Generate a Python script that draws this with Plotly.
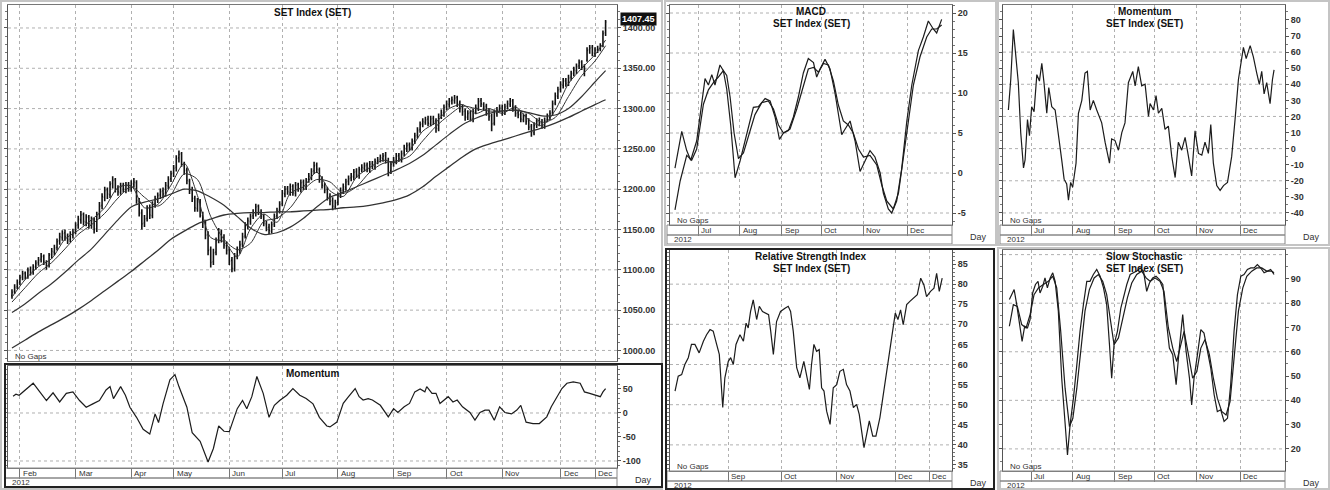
import plotly.graph_objects as go

W, H = 1330, 490

# ------------------------------------------------------------------ data
main_month_day = [3, 24, 45, 61, 82, 102, 123, 144, 164, 185, 207, 220]
main_month_lbl = ["Feb", "Mar", "Apr", "May", "Jun", "Jul", "Aug", "Sep", "Oct", "Nov", "Dec", "Dec"]
half_month_day = [102, 123, 144, 164, 185, 207]
half_month_lbl = ["Jul", "Aug", "Sep", "Oct", "Nov", "Dec"]
rsi_month_day = [144, 164, 185, 207, 220]
rsi_month_lbl = ["Sep", "Oct", "Nov", "Dec", "Dec"]
year_lbl = "2012"

bar_day = list(range(225))
open_px = [
    1068, 1073, 1079, 1085, 1091, 1096, 1092, 1100, 1098, 1104,
    1109, 1113, 1117, 1109, 1106, 1119, 1122, 1128, 1136, 1140,
    1146, 1142, 1138, 1143, 1148, 1156, 1162, 1169, 1159, 1166,
    1156, 1162, 1151, 1169, 1180, 1190, 1199, 1193, 1207, 1212,
    1201, 1196, 1205, 1199, 1206, 1201, 1206, 1208, 1185, 1171,
    1158, 1164, 1177, 1167, 1182, 1187, 1193, 1198, 1195, 1204,
    1213, 1220, 1227, 1239, 1244, 1230, 1224, 1210, 1199, 1188,
    1176, 1185, 1167, 1159, 1144, 1125, 1110, 1122, 1137, 1147,
    1140, 1130, 1125, 1112, 1101, 1118, 1124, 1132, 1142, 1154,
    1160, 1167, 1170, 1179, 1171, 1166, 1157, 1153, 1148, 1157,
    1167, 1174, 1182, 1194, 1201, 1196, 1204, 1195, 1206, 1200,
    1209, 1203, 1212, 1215, 1223, 1230, 1224, 1213, 1204, 1200,
    1191, 1186, 1178, 1184, 1193, 1199, 1202, 1210, 1214, 1215,
    1222, 1217, 1225, 1226, 1230, 1224, 1232, 1228, 1235, 1237,
    1238, 1242, 1235, 1223, 1232, 1235, 1242, 1237, 1245, 1250,
    1255, 1251, 1260, 1267, 1274, 1281, 1283, 1287, 1281, 1288,
    1285, 1275, 1291, 1294, 1302, 1305, 1310, 1310, 1314, 1307,
    1301, 1297, 1289, 1295, 1287, 1297, 1300, 1310, 1305, 1303,
    1296, 1291, 1282, 1294, 1299, 1302, 1295, 1303, 1305, 1310,
    1301, 1295, 1293, 1286, 1291, 1285, 1278, 1270, 1280, 1285,
    1283, 1278, 1286, 1289, 1295, 1307, 1315, 1324, 1329, 1335,
    1332, 1339, 1344, 1347, 1353, 1358, 1351, 1360, 1373, 1376,
    1368, 1373, 1375, 1379, 1394]
high_px = [
    1076, 1082, 1088, 1094, 1099, 1098, 1103, 1104, 1107, 1112,
    1116, 1121, 1119, 1112, 1121, 1127, 1131, 1139, 1146, 1149,
    1150, 1145, 1148, 1151, 1159, 1167, 1173, 1171, 1169, 1168,
    1166, 1165, 1172, 1184, 1195, 1203, 1202, 1210, 1216, 1214,
    1205, 1208, 1208, 1209, 1209, 1211, 1214, 1211, 1189, 1175,
    1168, 1180, 1181, 1185, 1192, 1196, 1201, 1202, 1209, 1216,
    1223, 1230, 1242, 1248, 1246, 1234, 1227, 1213, 1203, 1192,
    1189, 1188, 1172, 1162, 1148, 1129, 1126, 1140, 1152, 1150,
    1144, 1135, 1128, 1116, 1121, 1129, 1136, 1146, 1159, 1165,
    1170, 1175, 1182, 1181, 1175, 1169, 1161, 1157, 1160, 1170,
    1177, 1185, 1199, 1204, 1204, 1207, 1206, 1209, 1208, 1212,
    1212, 1214, 1220, 1226, 1234, 1233, 1227, 1216, 1208, 1203,
    1195, 1190, 1187, 1196, 1202, 1207, 1213, 1217, 1220, 1225,
    1226, 1228, 1231, 1233, 1233, 1235, 1235, 1238, 1240, 1243,
    1245, 1246, 1239, 1235, 1240, 1245, 1245, 1248, 1255, 1258,
    1258, 1263, 1270, 1277, 1284, 1288, 1290, 1291, 1291, 1291,
    1288, 1294, 1299, 1305, 1310, 1313, 1315, 1317, 1316, 1310,
    1305, 1300, 1298, 1298, 1300, 1305, 1313, 1313, 1308, 1306,
    1300, 1294, 1299, 1302, 1305, 1305, 1306, 1310, 1313, 1312,
    1304, 1299, 1296, 1294, 1294, 1288, 1281, 1283, 1288, 1289,
    1287, 1289, 1294, 1298, 1310, 1320, 1327, 1334, 1338, 1338,
    1342, 1347, 1352, 1356, 1361, 1360, 1355, 1376, 1379, 1379,
    1376, 1378, 1381, 1397, 1410]
low_px = [
    1064, 1070, 1076, 1081, 1087, 1088, 1089, 1093, 1094, 1100,
    1105, 1109, 1106, 1100, 1103, 1114, 1118, 1124, 1131, 1136,
    1136, 1132, 1134, 1139, 1144, 1151, 1157, 1155, 1154, 1151,
    1151, 1145, 1147, 1163, 1175, 1185, 1188, 1189, 1201, 1196,
    1192, 1193, 1196, 1195, 1197, 1197, 1202, 1182, 1166, 1150,
    1153, 1160, 1163, 1164, 1177, 1183, 1188, 1189, 1191, 1200,
    1209, 1215, 1222, 1233, 1228, 1218, 1206, 1194, 1184, 1172,
    1172, 1165, 1152, 1138, 1118, 1103, 1106, 1118, 1133, 1134,
    1126, 1119, 1106, 1097, 1098, 1113, 1120, 1128, 1139, 1150,
    1156, 1163, 1166, 1168, 1163, 1154, 1148, 1144, 1145, 1153,
    1163, 1170, 1179, 1190, 1193, 1192, 1192, 1191, 1197, 1196,
    1199, 1199, 1208, 1211, 1219, 1220, 1208, 1201, 1195, 1186,
    1180, 1174, 1175, 1180, 1189, 1194, 1198, 1205, 1210, 1211,
    1214, 1213, 1221, 1222, 1221, 1220, 1225, 1224, 1231, 1233,
    1234, 1232, 1216, 1219, 1228, 1231, 1234, 1233, 1241, 1246,
    1247, 1248, 1256, 1263, 1270, 1277, 1280, 1278, 1278, 1280,
    1270, 1272, 1287, 1290, 1298, 1301, 1305, 1306, 1302, 1295,
    1291, 1285, 1286, 1284, 1283, 1293, 1297, 1302, 1298, 1291,
    1285, 1272, 1279, 1290, 1295, 1291, 1292, 1299, 1302, 1296,
    1290, 1288, 1283, 1283, 1280, 1273, 1265, 1267, 1276, 1278,
    1275, 1275, 1283, 1286, 1292, 1304, 1312, 1320, 1325, 1327,
    1328, 1335, 1340, 1343, 1349, 1348, 1340, 1358, 1368, 1365,
    1364, 1369, 1371, 1376, 1390]
close_px = [
    1072, 1078, 1084, 1090, 1095, 1091, 1099, 1097, 1103, 1108,
    1112, 1116, 1110, 1105, 1118, 1123, 1127, 1135, 1141, 1145,
    1141, 1137, 1144, 1147, 1155, 1163, 1168, 1160, 1165, 1157,
    1161, 1150, 1168, 1179, 1191, 1198, 1194, 1206, 1211, 1200,
    1197, 1204, 1200, 1205, 1202, 1207, 1209, 1186, 1170, 1157,
    1163, 1176, 1168, 1181, 1188, 1192, 1197, 1194, 1205, 1212,
    1219, 1226, 1238, 1243, 1231, 1223, 1211, 1198, 1189, 1177,
    1184, 1168, 1158, 1143, 1124, 1109, 1121, 1136, 1146, 1139,
    1131, 1124, 1111, 1102, 1117, 1125, 1131, 1141, 1155, 1161,
    1166, 1171, 1178, 1172, 1167, 1158, 1152, 1149, 1156, 1166,
    1173, 1181, 1195, 1200, 1197, 1203, 1196, 1205, 1201, 1208,
    1204, 1211, 1216, 1222, 1229, 1225, 1212, 1205, 1199, 1190,
    1185, 1179, 1183, 1192, 1198, 1203, 1209, 1213, 1216, 1221,
    1218, 1224, 1227, 1229, 1225, 1231, 1229, 1234, 1236, 1239,
    1241, 1236, 1222, 1231, 1236, 1241, 1238, 1244, 1251, 1254,
    1252, 1259, 1266, 1273, 1280, 1284, 1286, 1282, 1287, 1284,
    1276, 1290, 1295, 1301, 1306, 1309, 1311, 1313, 1306, 1300,
    1296, 1290, 1294, 1288, 1296, 1301, 1309, 1306, 1302, 1295,
    1290, 1281, 1295, 1298, 1301, 1296, 1302, 1306, 1309, 1300,
    1294, 1292, 1287, 1290, 1284, 1277, 1271, 1279, 1284, 1282,
    1279, 1285, 1290, 1294, 1306, 1316, 1323, 1330, 1334, 1331,
    1338, 1343, 1348, 1352, 1357, 1352, 1349, 1372, 1375, 1369,
    1372, 1374, 1377, 1393, 1407.45]

ma_day = [0, 5, 10, 15, 20, 25, 30, 35, 40, 45, 50, 55, 60, 65, 70, 75, 80, 85, 90, 95,
          100, 105, 110, 115, 120, 125, 130, 135, 140, 145, 150, 155, 160, 165, 170, 175,
          180, 185, 190, 195, 200, 205, 210, 215, 220, 224]
ma_5 = [1066, 1088, 1104, 1114, 1138, 1149, 1162, 1177, 1202, 1204, 1177, 1181, 1205, 1232, 1192,
        1140, 1135, 1116, 1151, 1169, 1159, 1195, 1203, 1221, 1198, 1191, 1215, 1227, 1236, 1233,
        1248, 1272, 1283, 1300, 1305, 1294, 1300, 1294, 1302, 1286, 1279, 1298, 1331, 1350, 1367, 1385]
ma_10 = [1060, 1078, 1096, 1109, 1126, 1144, 1156, 1170, 1189, 1203, 1190, 1179, 1193, 1219, 1212,
         1166, 1138, 1125, 1133, 1160, 1164, 1177, 1199, 1212, 1209, 1195, 1203, 1221, 1232, 1235,
         1241, 1260, 1278, 1292, 1303, 1300, 1297, 1297, 1298, 1294, 1283, 1289, 1315, 1341, 1359, 1378]
ma_25 = [1047, 1058, 1071, 1083, 1097, 1112, 1126, 1144, 1162, 1178, 1184, 1188, 1194, 1200, 1198,
         1190, 1180, 1166, 1152, 1144, 1146, 1153, 1164, 1178, 1190, 1196, 1203, 1210, 1217, 1224,
         1232, 1242, 1255, 1268, 1280, 1288, 1294, 1297, 1298, 1295, 1291, 1292, 1300, 1315, 1333, 1347]
ma_75 = [1003, 1013, 1023, 1032, 1041, 1051, 1062, 1074, 1086, 1098, 1111, 1124, 1138, 1148, 1157,
         1163, 1168, 1170, 1171, 1171, 1172, 1172, 1173, 1174, 1175, 1177, 1178, 1180, 1183, 1187,
         1193, 1203, 1216, 1228, 1240, 1250, 1256, 1261, 1266, 1271, 1276, 1282, 1289, 1297, 1305, 1311]

mom_day = [0.4, 1.5, 2.7, 8, 10.5, 13, 15.5, 18, 20.5, 23, 25.5, 28, 30.5, 33, 35.5, 37, 38.3, 41,
           42.8, 44.5, 47, 49.5, 52, 54, 55.3, 57, 59.6, 61.5, 63, 66, 68, 71, 74, 76, 78, 80, 82,
           85, 87, 88.6, 90.5, 92.4, 94.8, 97, 99, 101, 103.7, 106, 108.6, 111, 113.6, 116, 118.8,
           120, 122.6, 125, 127, 129.5, 131, 132.5, 134.4, 136, 139, 140.7, 142, 144, 145.6, 148,
           150, 152, 154, 155.8, 156.5, 158.5, 160, 161.5, 163, 164.6, 166.4, 168, 170, 172.8,
           174.7, 176.6, 178.5, 180, 182, 184, 186, 188.5, 190.5, 192, 194, 196.6, 199, 201.8,
           203.5, 205.6, 207.5, 209.4, 211.8, 214.4, 216, 218, 220, 222, 223, 224]
mom_val = [35, 39, 37, 62, 44, 26, 42, 23, 41, 44, 26, 12, 19, 26, 48, 55, 30, 55,
           37, 12, -9, -34, -44, -2, -20, 19, 69, 80, 55, 12, -41, -59, -102, -74, -27, -38, -39,
           9, 26, 9, 34, 76, 41, -9, 16, 26, 37, 51, 37, 30, 19, -9, -27,
           -29, -19, 20, 34, 51, 34, 27, 30, 27, 16, 1, -8, 9, 1, 13,
           20, 44, 50, 44, 55, 41, 41, 20, 27, 34, 23, 27, 13, 1,
           -15, 1, 6, 6, -15, 13, 1, -2, 6, 16, -19, -22, -22, -8,
           13, 34, 51, 62, 65, 62, 44, 41, 37, 34, 44, 51]

macd_day = [90.4, 93.8, 96.3, 98.3, 101.3, 103.8, 105.5, 107.2, 108.9, 110.5, 113, 114.7, 116.4,
            118.4, 120.6, 123.1, 126.5, 129.8, 132.3, 135.7, 138.2, 140.7, 142.9, 144.9, 147.4,
            149.9, 152.4, 154.9, 157.4, 160, 161.6, 163.3, 165.8, 168.3, 170.8, 174.2, 175.9,
            178.4, 180.9, 183.4, 185.9, 188.4, 190.9, 193.5, 195.1, 197.6, 199.3, 201.8, 204.3,
            206.9, 209.4, 212.7, 215.2, 217.7, 220.2, 221.9, 224.4]
macd_val = [0.6, 5.2, 2.8, 1.6, 4.0, 9.0, 11.8, 11.0, 12.3, 11.0, 13.5, 12.8, 10.5,
            6.0, -0.6, 1.5, 5.0, 8.2, 8.3, 9.3, 9.0, 7.0, 4.2, 5.0, 5.3,
            7.0, 9.5, 12.5, 14.3, 13.8, 12.0, 13.0, 14.2, 13.0, 10.0, 4.8, 5.5,
            6.5, 4.0, 0.2, 1.5, 2.8, 2.0, 0.0, -2.5, -4.5, -5.0, -3.5, 0.5,
            6.5, 11.0, 15.3, 17.0, 19.0, 18.0, 17.5, 19.2]
signal_day = [90.4, 93, 96.3, 98.8, 101.3, 103, 104.7, 107.2, 109.7, 112.2, 114.7, 116.4, 118.1,
              120.1, 122.3, 124.8, 127.3, 130.6, 134, 137.3, 139.9, 142.4, 144.9, 148.2, 151.6,
              154.9, 157.4, 160, 162.5, 165, 167.5, 170, 172.5, 175, 177.5, 180, 182.6, 185.1,
              188.4, 191.8, 194.3, 196.8, 200.1, 202.7, 205.2, 207.7, 210.2, 213.5, 216.9, 219.4,
              221.9, 224.4]
signal_val = [-4.6, -1.0, 2.2, 1.6, 3.0, 6.0, 8.6, 10.4, 11.3, 12.0, 12.8, 12.2, 9.5,
              5.0, 1.8, 2.5, 4.5, 7.3, 8.8, 9.0, 8.0, 6.0, 5.0, 5.5, 8.0,
              11.0, 13.0, 13.2, 12.6, 13.7, 13.5, 11.5, 8.5, 6.5, 6.0, 5.0, 3.0, 2.0,
              2.2, 1.0, -1.5, -3.5, -4.5, -2.5, 2.0, 7.0, 11.0, 14.5, 17.0, 18.0,
              18.0, 18.5]

mom2_day = [90.6, 91.8, 93.1, 94.5, 95.6, 96.8, 98.2, 99, 100.2, 101.2, 102.3, 103.5, 104.9, 106.2,
            107.4, 108.5, 109.9, 110.9, 112.4, 114.1, 115.7, 117.4, 118.6, 119.9, 120.8, 121.9,
            122.9, 124.6, 125.8, 127.5, 129.1, 130.3, 131.7, 133.3, 135, 137.5, 139.2, 141.4,
            142.5, 144.2, 145.9, 147.6, 149.2, 150.9, 153.1, 154.3, 155.9, 157.6, 159.3, 161,
            161.8, 163.5, 164.8, 166, 167.7, 169.3, 171, 172.7, 174.4, 176, 177.7, 179.4, 181.1,
            182.7, 184.4, 186.1, 187.8, 189.4, 191.1, 192.3, 193.6, 195.3, 197, 198.7, 200.7,
            202.8, 204.5, 206.2, 208.7, 210.1, 212.1, 213.7, 215.4, 216.7, 217.9, 219.1, 220.4,
            222.1, 223.3, 224.1]
mom2_val = [24, 43, 74, 57, 41, 10, -12, -7, 18, 8, 26, 23, 46, 42,
            53, 41, 22, 38, 26, 24, 10, -7, -19, -22, -32, -21,
            -24, -9, 22, 30, 47, 48, 24, 30, 24, 16, 4, -9,
            6, 5, -1, 10, 16, 41, 48, 39, 51, 39, 40, 20,
            28, 24, 33, 22, 25, 12, 14, -5, -18, 4, -1, 7, -5,
            -17, 11, -3, -4, 4, -3, 15, -9, -23, -26, -23, -21,
            -5, 18, 43, 63, 56, 64, 57, 47, 40, 48, 34, 41,
            28, 43, 49]

rsi_day = [124, 125.2, 126.5, 127.7, 129, 130.2, 131.5, 133.1, 134.7, 135.9, 137.2, 138.4, 139.7,
           140.7, 142, 142.8, 144.1, 145, 146, 147, 148.5, 149.8, 150.8, 151.6, 152.5, 153.5,
           154.8, 155.8, 157, 158.3, 159.3, 160.1, 161.1, 162.3, 163.8, 165.5, 166.7, 167.6,
           168.6, 169.9, 171.1, 172.6, 173.6, 174.7, 175.5, 176.4, 177.4, 178.4, 179.3, 180.2,
           181.2, 182.5, 183.7, 185, 186.2, 187.5, 188.7, 190, 191.3, 192.5, 193.5, 194.4,
           195.3, 196.3, 197.3, 198.6, 199.8, 201.3, 202.6, 203.6, 204.8, 206.1, 207.1, 208.1,
           209.1, 210.1, 211.4, 212.6, 213.9, 215.4, 216.7, 217.9, 218.9, 220.4, 221.7, 222.7,
           223.7, 224.8]
rsi_val = [53.4, 57.1, 57.5, 60, 61.7, 65, 65, 62.9, 65.8, 67.4, 68.7, 68.3, 65,
           62.5, 49.3, 56.7, 60.8, 61.7, 60, 65, 67.4, 65.8, 70.3, 69.1, 73.2, 76.1,
           71.2, 74.5, 73.2, 72.8, 72.4, 68.3, 62.5, 70.7, 73.2, 74, 74.5, 73.2,
           68.3, 59.2, 56.7, 60.8, 57.1, 53.8, 60, 65, 63.3, 63.7, 54.2, 53.4,
           48.4, 45.1, 54.2, 55, 58.3, 58.8, 55, 53.4, 49.3, 50.1, 47.6, 43.5,
           39.3, 42.6, 46, 42.2, 42.2, 46.8, 52.6, 57.5, 61.7, 68.3, 72.8, 71.2,
           73.6, 69.9, 74.9, 75.7, 76.5, 77.4, 81.5, 79.8, 76.9, 78.2, 79, 82.7,
           78.2, 81.5]

stk_day = [91.1, 92.3, 93.5, 94.8, 96.1, 97.5, 98.8, 100.2, 101.5, 102.8, 104.2, 105.5, 106.5,
           107.9, 109, 110.2, 111.6, 112.9, 114.1, 115.7, 117.4, 119.1, 120.3, 121.6, 123.3, 125,
           126.6, 128.3, 130, 131.6, 133.3, 135, 136.7, 138.4, 140, 141.4, 142.5, 143.7, 145.4,
           147.1, 148.4, 150.1, 151.8, 153.4, 155.1, 156.8, 158.5, 160.1, 161.5, 163.1, 164.8,
           166.5, 168.2, 169.8, 171.5, 173.2, 174.9, 176.5, 178.2, 179.9, 181.6, 182.7, 183.9,
           185.6, 187.3, 188.9, 190.6, 192.3, 194, 195.6, 197.3, 199, 200.7, 202.3, 204, 205.7,
           207.4, 209, 210.7, 212.4, 214.1, 215.7, 217.4, 219.1, 220.8, 222.4, 224.1]
stk_val = [81.5, 83.5, 85.6, 79.4, 72.5, 64.3, 70.5, 69.8, 73.2, 84.2, 87.7, 89, 84.2,
           87, 90.4, 86.3, 90.4, 92.5, 89, 76.7, 49.1, 31.3, 17.5, 29.9, 40.9, 54.6,
           68.4, 79.4, 89, 89, 91.8, 93.9, 91.1, 86.3, 79.4, 62.9, 49.1, 62.9, 68.4,
           78, 82.2, 87.7, 91.8, 92.5, 93.2, 94.5, 93.2, 84.9, 88.3, 90.4, 91.1,
           89.7, 87.7, 73.9, 61.5, 58.8, 46.4, 61.5, 75.3, 60.2, 49.1, 38.1, 49.1,
           58.8, 69.1, 67.7, 60.2, 53.3, 42.3, 35.4, 36.1, 31.3, 32.6, 46.4, 68.4, 83.5,
           91.1, 91.8, 93.9, 94.5, 94.5, 95.9, 94.5, 92.5, 93.2, 93.9, 91.8]
std_day = [91.1, 93.1, 95.1, 97.3, 99.5, 101.5, 103.5, 105.7, 108.2, 110.7, 112.9, 114.9, 116.9,
           119.1, 121.3, 123, 125, 127, 129.1, 131.3, 133.7, 135.8, 138, 140, 142, 143.7, 145.9,
           148.1, 150.4, 152.6, 155.1, 157.6, 159.8, 161.8, 164.3, 166.8, 168.8, 171, 173.2,
           175.2, 177.2, 178.9, 181.1, 183.2, 185.3, 187.3, 189.4, 191.6, 193.6, 195.6, 197.8,
           200, 202, 204, 206.2, 208.4, 210.4, 212.9, 215.4, 217.9, 220.4, 222.9, 224.1]
std_val = [70.5, 79.4, 78.7, 71.2, 69.8, 75.3, 83.5, 86.3, 87.7, 89, 91.1, 86.3, 68.4,
           45, 29.2, 32.6, 45, 60.2, 76.7, 85.6, 90.4, 91.8, 89, 83.5, 71.2, 62.9, 65.7,
           73.9, 82.2, 88.3, 91.8, 93.2, 90.4, 89, 90.4, 89, 84.9, 69.8, 61.5,
           56, 62.9, 68.4, 58.8, 49.1, 51.9, 61.5, 65, 58.8, 49.1, 40.9, 35.4,
           34, 39.5, 57.4, 76.7, 86.3, 91.1, 93.2, 94.5, 94.5, 93.2, 93.2, 92.5]

# ------------------------------------------------------------------ style / layout helpers
FONT = "Liberation Sans, Arial, sans-serif"
INK = "#1c1c1c"
GRID = "#b0b0b0"
TICKFONT = dict(family=FONT, size=9, color="#333", weight="bold")


def xd(x0, x1):
    return [x0 / W, x1 / W]


def yd(y0, y1):
    return [1 - y1 / H, 1 - y0 / H]


def pxx(x):
    return x / W


def pyy(y):
    return 1 - y / H


panels = {
    # name: (axis suffix, x px, y px, x range, y range, tick vals, decimals, grid vals, minor dtick)
    "main": ("", (8, 617), (5, 361), [-1.5, 228.3], [986.9, 1428.5],
             [1000, 1050, 1100, 1150, 1200, 1250, 1300, 1350, 1400], 2,
             [1000, 1050, 1100, 1150, 1200, 1250, 1300, 1350, 1400], 10),
    "mom": ("2", (8, 617), (366, 468), [-1.5, 228.3], [-114.6, 97.9],
            [-100, -50, 0, 50], 0, [-100, 0], 10),
    "macd": ("3", (670, 952), (5, 225), [87.9, 229.6], [-6.5, 21],
             [-5, 0, 5, 10, 15, 20], 0, [-5, 0, 5, 10, 15, 20], 1),
    "mom2": ("4", (1003, 1285), (5, 225), [87.9, 229.6], [-47.5, 89.3],
             [-40, -30, -20, -10, 0, 10, 20, 30, 40, 50, 60, 70, 80], 0,
             [-40, -20, 0, 20, 40, 60], 5),
    "rsi": ("5", (670, 952), (250, 471), [122.1, 228.5], [33.5, 88.5],
            [35, 40, 45, 50, 55, 60, 65, 70, 75, 80, 85], 0, [40, 50, 60, 70, 80], 1),
    "sto": ("6", (1003, 1285), (250, 471), [87.9, 229.6], [10.9, 101.9],
            [20, 30, 40, 50, 60, 70, 80, 90], 0, [20, 40, 60, 80, 100], 5),
}
month_sets = {
    "main": (main_month_day, main_month_lbl),
    "mom": (main_month_day, main_month_lbl),
    "macd": (half_month_day, half_month_lbl),
    "mom2": (half_month_day, half_month_lbl),
    "rsi": (rsi_month_day, rsi_month_lbl),
    "sto": (half_month_day, half_month_lbl),
}

fig = go.Figure()

# price bars
fig.add_trace(go.Ohlc(x=bar_day, open=open_px, high=high_px, low=low_px, close=close_px,
                      increasing=dict(line=dict(color="#111", width=1.6)),
                      decreasing=dict(line=dict(color="#111", width=1.6)),
                      tickwidth=0.35, xaxis="x", yaxis="y", showlegend=False, hoverinfo="skip"))
for ser, wdt in ((ma_5, 1.0), (ma_10, 1.0), (ma_25, 1.2), (ma_75, 1.3)):
    fig.add_trace(go.Scatter(x=ma_day, y=ser, mode="lines", xaxis="x", yaxis="y",
                             line=dict(color="#333", width=wdt, shape="spline", smoothing=0.8),
                             showlegend=False, hoverinfo="skip"))

line_traces = [
    ("mom", mom_day, mom_val), ("macd", macd_day, macd_val), ("macd", signal_day, signal_val),
    ("mom2", mom2_day, mom2_val), ("rsi", rsi_day, rsi_val),
    ("sto", stk_day, stk_val), ("sto", std_day, std_val),
]
for name, xs, ys in line_traces:
    s = panels[name][0]
    fig.add_trace(go.Scatter(x=xs, y=ys, mode="lines", xaxis="x" + s, yaxis="y" + s,
                             line=dict(color=INK, width=1.2), showlegend=False, hoverinfo="skip"))

layout = dict(width=W, height=H, margin=dict(l=0, r=0, t=0, b=0), autosize=False,
              paper_bgcolor="white", plot_bgcolor="white", showlegend=False,
              font=dict(family=FONT, color="#222"))
shapes = []
annotations = []

for name, (s, (x0, x1), (y0, y1), xr, yr, tv, dec, gv, mdt) in panels.items():
    mdays, mlbls = month_sets[name]
    strip = name != "main"
    layout["xaxis" + s] = dict(domain=xd(x0, x1), range=xr, anchor="y" + s,
                               tickvals=mdays, showticklabels=False,
                               ticks="outside" if strip else "", ticklen=10, tickcolor="#777",
                               showgrid=True, gridcolor=GRID, griddash="dot", gridwidth=1,
                               showline=True, linecolor="#777", linewidth=1, mirror=True,
                               zeroline=False, fixedrange=True)
    layout["yaxis" + s] = dict(domain=yd(y0, y1), range=yr, anchor="x" + s, side="right",
                               tickvals=tv, ticktext=[f"{v:.{dec}f}" for v in tv],
                               tickfont=TICKFONT,
                               showgrid=False, zeroline=False, showline=True, linecolor="#555",
                               linewidth=1, ticks="outside", ticklen=3, tickcolor="#555",
                               mirror="ticks",
                               minor=dict(tickmode="linear", tick0=0, dtick=mdt, ticks="outside",
                                          ticklen=2, tickcolor="#777"),
                               fixedrange=True)
    for g in gv:
        shapes.append(dict(type="line", xref="x" + s + " domain", x0=0, x1=1, yref="y" + s,
                           y0=g, y1=g, line=dict(color=GRID, width=1, dash="dot"), layer="below"))
    if strip:
        sx0 = x0 - 3
        shapes.append(dict(type="rect", xref="paper", yref="paper", x0=pxx(sx0), x1=pxx(x1),
                           y0=pyy(y1 + 10), y1=pyy(y1), line=dict(color="#888", width=1)))
        shapes.append(dict(type="rect", xref="paper", yref="paper", x0=pxx(sx0), x1=pxx(x1),
                           y0=pyy(y1 + 19), y1=pyy(y1 + 10), line=dict(color="#888", width=1)))
        for d, t in zip(mdays, mlbls):
            annotations.append(dict(text=t, xref="x" + s, x=d, xanchor="left", xshift=1,
                                    yref="paper", y=pyy(y1 + 5), yanchor="middle", showarrow=False,
                                    font=dict(family=FONT, size=8, color="#333")))
        annotations.append(dict(text=year_lbl, xref="paper", x=pxx(sx0 + 5), xanchor="left",
                                yref="paper", y=pyy(y1 + 14.5), yanchor="middle", showarrow=False,
                                font=dict(family=FONT, size=8, color="#333")))
        annotations.append(dict(text="Day", xref="paper", x=pxx(x1 + 26), xanchor="center",
                                yref="paper", y=pyy(y1 + 12), yanchor="middle", showarrow=False,
                                font=dict(family=FONT, size=9, color="#333")))
    if name != "mom":
        annotations.append(dict(text="No Gaps", xref="paper", x=pxx(x0 + 5), xanchor="left",
                                yref="paper", y=pyy(y1 - 5), yanchor="middle", showarrow=False,
                                font=dict(family=FONT, size=8, color="#333")))

layout["xaxis"]["rangeslider"] = dict(visible=False)

# titles
title_specs = [
    ("main", ["SET Index (SET)"], 13),
    ("mom", ["Momentum"], 373),
    ("macd", ["MACD", "SET Index (SET)"], 11),
    ("mom2", ["Momentum", "SET Index (SET)"], 11),
    ("rsi", ["Relative Strength Index", "SET Index (SET)"], 256),
    ("sto", ["Slow Stochastic", "SET Index (SET)"], 256),
]
for name, lines, ytop in title_specs:
    (x0, x1) = panels[name][1]
    for k, t in enumerate(lines):
        annotations.append(dict(text=t, xref="paper", x=pxx((x0 + x1) / 2), xanchor="center",
                                yref="paper", y=pyy(ytop + 12.5 * k), yanchor="middle",
                                showarrow=False,
                                font=dict(family=FONT, size=10, color="#111", weight="bold")))

# last price tag
annotations.append(dict(text=f"{close_px[-1]:.2f}", xref="paper", x=pxx(620), xanchor="left",
                        yref="y", y=close_px[-1], yanchor="middle", yshift=3, showarrow=False,
                        bgcolor="#111", borderpad=1,
                        font=dict(family=FONT, size=9, color="white", weight="bold")))


# window frames
def frame(x0, y0, x1, y1, color, width):
    shapes.append(dict(type="rect", xref="paper", yref="paper", x0=pxx(x0), x1=pxx(x1),
                       y0=pyy(y1), y1=pyy(y0), line=dict(color=color, width=width)))


frame(1, 1, 662, 489, "#c4c4c4", 2)
frame(665, 1, 996, 245, "#c4c4c4", 2)
frame(998, 1, 1329, 245, "#c4c4c4", 2)
frame(998, 248, 1329, 489, "#c4c4c4", 2)
frame(666, 249, 994, 489, "#222", 2)
frame(5, 364, 662, 487, "#222", 2)

layout["shapes"] = shapes
layout["annotations"] = annotations
fig.update_layout(**layout)
fig.write_html("out.html",
               config={"displayModeBar": False, "staticPlot": True},
               post_script="document.body.style.margin='0px';"
                           "document.body.style.overflow='hidden';")
